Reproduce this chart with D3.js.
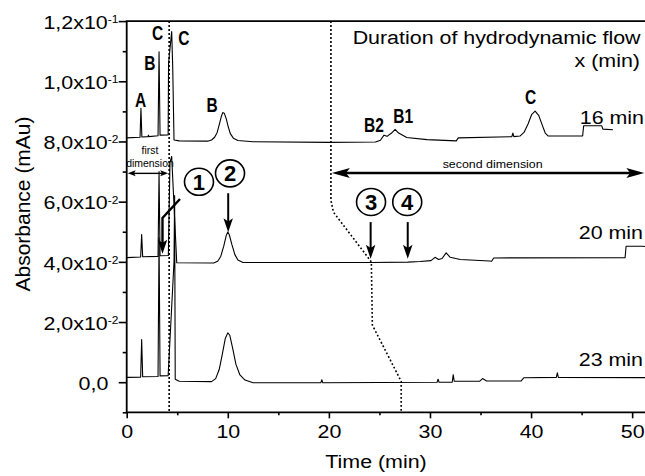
<!DOCTYPE html>
<html>
<head>
<meta charset="utf-8">
<title>Hydrodynamic flow chromatograms</title>
<script src="https://d3js.org/d3.v7.min.js"></script>
<style>
  body { margin: 0; background: #fff; }
  svg { display: block; font-family: "Liberation Sans", Arial, Helvetica, sans-serif; }
</style>
</head>
<body>
<div id="chart"></div>
<script>
// time (min), absorbance
const trace16 = [[0,0.0812],[1.32,0.0814],[1.41,0.0910],[1.5,0.0815],[2.1,0.0816],[2.15,0.0821],[2.2,0.0816],
  [3.1,0.0819],[3.2,0.1098],[3.3,0.0821],[4.1,0.0822],[4.14,0.1060],[4.45,0.1165],[4.55,0.1050],[4.68,0.0805],
  [5.2,0.0802],[8.0,0.0801],[8.4,0.0805],[8.7,0.0814],[8.95,0.0830],[9.15,0.0855],[9.35,0.0882],[9.5,0.0896],
  [9.65,0.0894],[9.85,0.0875],[10.05,0.0848],[10.25,0.0826],[10.55,0.0811],[11.0,0.0803],[12.5,0.0799],
  [20,0.0797],[24.6,0.0798],[25.1,0.0804],[25.45,0.0821],[25.75,0.0817],[26.2,0.0828],[26.55,0.0840],
  [26.9,0.0828],[27.7,0.0813],[29.7,0.0806],[32.6,0.0802],[32.8,0.0812],[38.1,0.0816],[38.2,0.0828],
  [38.3,0.0816],[38.9,0.0818],[39.3,0.0830],[39.7,0.0858],[40.05,0.0889],[40.4,0.0901],[40.75,0.0887],
  [41.1,0.0855],[41.4,0.0828],[41.7,0.0818],[45.1,0.0818],[45.2,0.0852],[47.0,0.0852],[47.1,0.0841],[48.1,0.0839]];

const trace20 = [[0,0.0414],[1.38,0.0416],[1.48,0.0491],[1.58,0.0417],[3.1,0.0418],[3.2,0.0700],[3.3,0.0420],
  [4.12,0.0421],[4.28,0.0730],[4.45,0.0750],[4.95,0.0397],[8.6,0.0396],[9.0,0.0402],[9.3,0.0418],[9.6,0.0452],
  [9.85,0.0488],[10.0,0.0499],[10.15,0.0490],[10.4,0.0458],[10.7,0.0424],[11.0,0.0406],[11.5,0.0398],
  [24.2,0.0398],[27.8,0.0399],[29.0,0.0401],[30.1,0.0404],[30.5,0.0415],[30.85,0.0408],[31.2,0.0411],
  [31.6,0.0430],[32.0,0.0415],[33.0,0.0408],[35.9,0.0403],[36.1,0.0402],[36.3,0.0413],[49.3,0.0414],
  [49.4,0.0452],[51.0,0.0452],[52,0.0448]];

const trace23 = [[0,0.0016],[1.38,0.0017],[1.48,0.0142],[1.58,0.0018],[3.1,0.0019],[3.2,0.0480],[3.3,0.0021],
  [4.1,0.0022],[4.68,0.0400],[4.74,0.0620],[4.8,0.0010],[5.2,0.0003],[8.4,0.0002],[8.8,0.0012],[9.15,0.0042],
  [9.45,0.0092],[9.75,0.0145],[10.0,0.0164],[10.2,0.0156],[10.5,0.0110],[10.8,0.0060],[11.2,0.0024],
  [11.7,0.0007],[12.5,-0.0002],[19.2,-0.0002],[19.3,0.0008],[19.4,-0.0002],[30.7,0.0],[30.8,0.0010],
  [30.9,0.0],[32.2,0.0],[32.3,0.0025],[32.4,0.0003],[34.9,0.0003],[35.2,0.0012],[35.6,0.0004],[39.0,0.0004],
  [39.3,0.0015],[42.5,0.0016],[42.6,0.0031],[42.7,0.0016],[52,0.0015]];

// dotted boundaries
const dotFirst = [[4.2,0.12],[4.2,-0.01]];
const dotDuration = [[20.2,0.12],[20.2,0.0605],[20.45,0.0565],[24.2,0.0400],[24.3,0.0190],[27.15,0.0003],[27.15,-0.01]];

const xTicks = [0,10,20,30,40,50];
const xMinor = [5,15,25,35,45];
const yTicks = [0,0.02,0.04,0.06,0.08,0.10,0.12];
const yMinor = [-0.01,0.01,0.03,0.05,0.07,0.09,0.11];
const yMantissa = ['0,0','2,0x10','4,0x10','6,0x10','8,0x10','1,0x10','1,2x10'];
const yExponent = ['','-2','-2','-2','-2','-1','-1'];

const peakLabels = [['A',1.38,0.0916],['B',2.30,0.1037],['C',3.05,0.1137],['C',5.65,0.1120],
  ['B',8.44,0.0898],['B2',24.46,0.0830],['B1',27.36,0.0860],['C',39.96,0.0926]];
const runLabels = [['16 min',51.17,0.0858],['20 min',51.07,0.0477],['23 min',51.07,0.0053]];
const markers = [['1',7.15,0.0666],['2',10.22,0.0694],['3',24.17,0.0599],['4',27.75,0.0599]];
const downArrows = [[10.04,0.0628,0.0498],[24.13,0.0532,0.0410],[27.8,0.0532,0.0410]];
const bentArrow = [[5.27,0.0609],[3.54,0.0546],[3.54,0.0427]];

const width = 645, height = 476;
const SX = 1.19;

const svg = d3.select('#chart').append('svg').attr('width', width).attr('height', height);
const x = d3.scaleLinear().domain([0, 51.27]).range([126.7, 645]);
const y = d3.scaleLinear().domain([-0.01, 0.12]).range([412.3, 21.1]);

svg.append('clipPath').attr('id', 'plot')
  .append('rect').attr('x', x(0)).attr('y', y(0.12)).attr('width', width - x(0)).attr('height', y(-0.01) - y(0.12));

function text(px, py, str, o) {
  o = o || {};
  const g = svg.append('g').attr('transform', `translate(${px},${py}) scale(${o.sx || SX},1)`);
  return g.append('text')
    .attr('text-anchor', o.anchor || 'start')
    .style('font-size', (o.size || 18) + 'px')
    .style('font-weight', o.weight || 'normal')
    .text(str);
}

function head(px, py, angle, len, wid) {
  svg.append('path')
    .attr('d', `M0,0L${-len},${-wid / 2}L${-len * 0.78},0L${-len},${wid / 2}Z`)
    .attr('transform', `translate(${px},${py}) rotate(${angle})`)
    .attr('fill', '#000');
}

// axes
const xAxisG = svg.append('g').attr('transform', `translate(0,${y(-0.01)})`)
  .call(d3.axisBottom(x).tickValues(xTicks).tickSize(6).tickSizeOuter(0));
xAxisG.select('.domain').remove();
xAxisG.selectAll('.tick line').attr('stroke-width', 1.6);
xAxisG.selectAll('.tick text')
  .attr('y', 26.2).attr('dy', 0)
  .attr('transform', `scale(${SX},1)`)
  .style('font-size', '18px').style('font-family', null).attr('fill', '#000');

const xMinorG = svg.append('g').attr('transform', `translate(0,${y(-0.01)})`)
  .call(d3.axisBottom(x).tickValues(xMinor).tickSize(3).tickSizeOuter(0).tickFormat(''));
xMinorG.select('.domain').remove();
xMinorG.selectAll('.tick line').attr('stroke-width', 1.6);

const yAxisG = svg.append('g').attr('transform', `translate(${x(0)},0)`)
  .call(d3.axisLeft(y).tickValues(yTicks).tickSize(8).tickSizeOuter(0).tickFormat(''));
yAxisG.select('.domain').remove();
yAxisG.selectAll('.tick line').attr('stroke-width', 1.6);
yAxisG.selectAll('.tick').each(function (d, i) {
  const hasExp = yExponent[i] !== '';
  const g = d3.select(this).append('g')
    .attr('transform', `translate(${hasExp ? -8.4 : -18.4},0) scale(${SX},1)`);
  const t = g.append('text').attr('text-anchor', 'end').attr('y', 7.2)
    .attr('fill', '#000').style('font-size', '18px');
  t.append('tspan').text(yMantissa[i]);
  if (hasExp) t.append('tspan').attr('dy', -5.8).style('font-size', '10px').text(yExponent[i]);
});

const yMinorG = svg.append('g').attr('transform', `translate(${x(0)},0)`)
  .call(d3.axisLeft(y).tickValues(yMinor).tickSize(4).tickSizeOuter(0).tickFormat(''));
yMinorG.select('.domain').remove();
yMinorG.selectAll('.tick line').attr('stroke-width', 1.6);

// frame
svg.append('path')
  .attr('d', `M${width},${y(0.12)}H${x(0)}V${y(-0.01)}H${width}`)
  .attr('fill', 'none').attr('stroke', '#000').attr('stroke-width', 1.8);

// axis titles
text(376, 468, 'Time (min)', {anchor: 'middle', size: 18});
svg.append('text')
  .attr('transform', `translate(30,204) rotate(-90)`)
  .attr('text-anchor', 'middle')
  .style('font-size', '21px')
  .text('Absorbance (mAu)');

// traces
const line = d3.line().x(d => x(d[0])).y(d => y(d[1]));
const plot = svg.append('g').attr('clip-path', 'url(#plot)');
[trace16, trace20, trace23].forEach(tr => {
  plot.append('path').datum(tr).attr('d', line)
    .attr('fill', 'none').attr('stroke', '#000').attr('stroke-width', 1.1).attr('stroke-linejoin', 'round');
});
[dotFirst, dotDuration].forEach(tr => {
  plot.append('path').datum(tr).attr('d', line)
    .attr('fill', 'none').attr('stroke', '#000').attr('stroke-width', 1.6).attr('stroke-dasharray', '1.8,2.2');
});

// peak names
peakLabels.forEach(([s, t, v]) => text(x(t), y(v), s, {anchor: 'middle', size: 21, weight: 'bold', sx: 0.74}));
runLabels.forEach(([s, t, v]) => text(x(t), y(v), s, {anchor: 'end'}));
text(x(22.35), y(0.1123), 'Duration of hydrodynamic flow');
text(x(50.77), y(0.1048), 'x (min)', {anchor: 'end'});

// first dimension
text(x(2.3), y(0.0758), 'first', {anchor: 'middle', size: 11, sx: 0.95});
text(x(2.3), y(0.0715), 'dimension', {anchor: 'middle', size: 11, sx: 0.95});
svg.append('line').attr('x1', x(0.1) + 5).attr('x2', x(4.1) - 5)
  .attr('y1', y(0.0694)).attr('y2', y(0.0694)).attr('stroke', '#000').attr('stroke-width', 1.4);
head(x(0.1), y(0.0694), 180, 8, 6);
head(x(4.1), y(0.0694), 0, 8, 6);

// second dimension
text(x(36.2), y(0.0713), 'second dimension', {anchor: 'middle', size: 11, sx: 1.13});
svg.append('line').attr('x1', x(20.3) + 14).attr('x2', x(51.2) - 14)
  .attr('y1', y(0.0695)).attr('y2', y(0.0695)).attr('stroke', '#000').attr('stroke-width', 2.4);
head(x(20.3), y(0.0695), 180, 18, 10);
head(x(51.2), y(0.0695), 0, 18, 10);

// arrows to the marked positions
downArrows.forEach(([t, v0, v1]) => {
  svg.append('line').attr('x1', x(t)).attr('x2', x(t)).attr('y1', y(v0)).attr('y2', y(v1) - 10)
    .attr('stroke', '#000').attr('stroke-width', 2);
  head(x(t), y(v1), 90, 14, 9.5);
});
svg.append('path').datum(bentArrow)
  .attr('d', d3.line().x(d => x(d[0])).y((d, i) => y(d[1]) - (i === 2 ? 10 : 0)))
  .attr('fill', 'none').attr('stroke', '#000').attr('stroke-width', 2.4);
head(x(bentArrow[2][0]), y(bentArrow[2][1]), 90, 14, 9.5);

// circled numbers
markers.forEach(([s, t, v]) => {
  svg.append('ellipse').attr('cx', x(t)).attr('cy', y(v)).attr('rx', 14.5).attr('ry', 13.5)
    .attr('fill', '#fff').attr('stroke', '#000').attr('stroke-width', 1.6);
  text(x(t), y(v) + 7.9, s, {anchor: 'middle', size: 22, weight: 'bold', sx: 1});
});
</script>
</body>
</html>
